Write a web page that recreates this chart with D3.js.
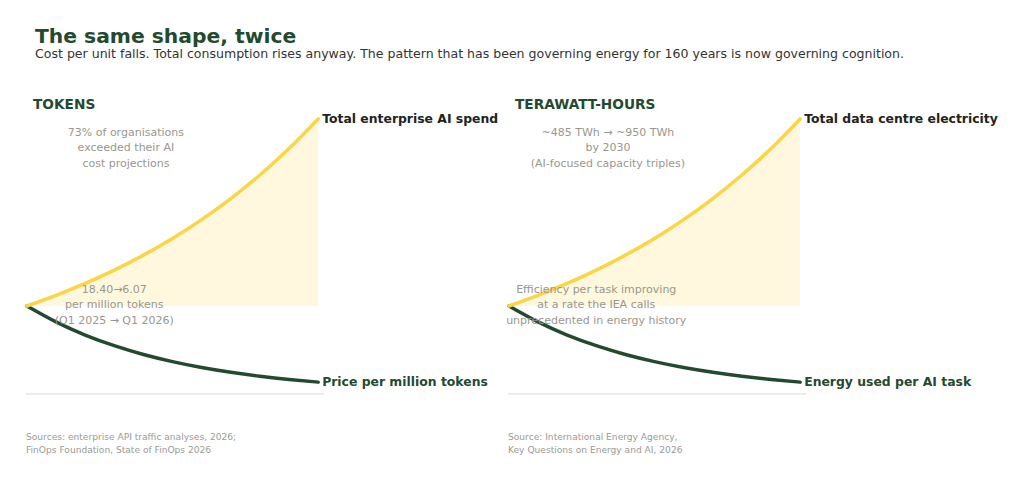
<!DOCTYPE html>
<html>
<head>
  <title>The same shape, twice</title>
  <script src="https://d3js.org/d3.v7.min.js"></script>
  <style>
    body {
      margin: 0;
      background-color: white;
      font-family: "DejaVu Sans", sans-serif;
    }

    .note {
      fill: #9a978c;
      font-size: 11px;
    }

    .source {
      fill: #9a9a94;
      font-size: 9.1px;
    }
  </style>
</head>
<body>
  <svg id="chart" width="1024" height="481"></svg>

  <script>
    // ----------- DATA -----------------------------------------------------
    const steps = [0, 0.1, 0.2, 0.3, 0.4, 0.5, 0.6, 0.7, 0.8, 0.9, 1.0];
    // both panels share the same two shapes
    const totalRise = [1.000, 1.121, 1.256, 1.408, 1.578, 1.768, 1.982, 2.221, 2.489, 2.789, 3.126];
    const unitFall = [1.000, 0.819, 0.670, 0.549, 0.449, 0.368, 0.301, 0.247, 0.202, 0.165, 0.135];

    const panelTitles = ["TOKENS", "TERAWATT-HOURS"];
    const riseLabels = ["Total enterprise AI spend", "Total data centre electricity"];
    const fallLabels = ["Price per million tokens", "Energy used per AI task"];
    const riseNotes = [
      ["73% of organisations", "exceeded their AI", "cost projections"],
      ["~485 TWh \u2192 ~950 TWh", "by 2030", "(AI-focused capacity triples)"]
    ];
    const fallNotes = [
      ["18.40\u21926.07", "per million tokens", "(Q1 2025 \u2192 Q1 2026)"],
      ["Efficiency per task improving", "at a rate the IEA calls", "unprecedented in energy history"]
    ];
    const sources = [
      ["Sources: enterprise API traffic analyses, 2026;", "FinOps Foundation, State of FinOps 2026"],
      ["Source: International Energy Agency,", "Key Questions on Energy and AI, 2026"]
    ];

    const green = "#234a30";
    const yellow = "#fbd545";
    const fillYellow = "#fff7de";

    const svg = d3.select("#chart");

    // ----------- HEADER ---------------------------------------------------
    svg.append("text")
      .attr("x", 35)
      .attr("y", 43)
      .attr("fill", green)
      .attr("font-size", "20.3px")
      .attr("font-weight", "bold")
      .text("The same shape, twice");

    svg.append("text")
      .attr("x", 35)
      .attr("y", 58)
      .attr("fill", "#333")
      .attr("font-size", "12.55px")
      .text("Cost per unit falls. Total consumption rises anyway. The pattern that has been governing energy for 160 years is now governing cognition.");

    // ----------- PANELS ---------------------------------------------------
    const panelLefts = [26, 508];
    const panelWidth = 298;

    panelLefts.forEach((left, i) => {
      const x = d3.scaleLinear()
        .domain([-0.003, 1.02])
        .range([left, left + panelWidth]);

      const y = d3.scaleLinear()
        .domain([0, 3.3])
        .range([394, 394 - 3.3 * 88]);

      const g = svg.append("g");

      // yellow area between the starting level and the rising curve
      const area = d3.area()
        .x((d, j) => x(steps[j]))
        .y0(y(totalRise[0]))
        .y1(d => y(d))
        .curve(d3.curveNatural);

      g.append("path")
        .datum(totalRise)
        .attr("d", area)
        .attr("fill", fillYellow);

      // bottom spine
      g.append("line")
        .attr("x1", x.range()[0])
        .attr("x2", x.range()[1])
        .attr("y1", y(0))
        .attr("y2", y(0))
        .attr("stroke", "#d9d9d4")
        .attr("stroke-width", 1);

      const line = d3.line()
        .x((d, j) => x(steps[j]))
        .y(d => y(d))
        .curve(d3.curveNatural);

      g.append("path")
        .datum(unitFall)
        .attr("d", line)
        .attr("fill", "none")
        .attr("stroke", green)
        .attr("stroke-width", 3.5)
        .attr("stroke-linecap", "round");

      g.append("path")
        .datum(totalRise)
        .attr("d", line)
        .attr("fill", "none")
        .attr("stroke", yellow)
        .attr("stroke-width", 3.5)
        .attr("stroke-linecap", "round");

      // panel heading
      g.append("text")
        .attr("x", left + 7)
        .attr("y", 104)
        .attr("dy", ".35em")
        .attr("fill", green)
        .attr("font-size", "13.7px")
        .attr("font-weight", "bold")
        .text(panelTitles[i]);

      // end labels
      const last = steps.length - 1;
      g.append("text")
        .attr("x", x(steps[last]) + 4)
        .attr("y", y(totalRise[last]))
        .attr("dy", ".35em")
        .attr("fill", "#222")
        .attr("font-size", "12.4px")
        .attr("font-weight", "bold")
        .text(riseLabels[i]);

      g.append("text")
        .attr("x", x(steps[last]) + 4)
        .attr("y", y(unitFall[last]))
        .attr("dy", ".35em")
        .attr("fill", green)
        .attr("font-size", "12.4px")
        .attr("font-weight", "bold")
        .text(fallLabels[i]);

      // annotations
      riseNotes[i].forEach((t, k) => {
        g.append("text")
          .attr("class", "note")
          .attr("x", x(0.34))
          .attr("y", 132 + k * 15.5)
          .attr("dy", ".35em")
          .attr("text-anchor", "middle")
          .text(t);
      });

      fallNotes[i].forEach((t, k) => {
        g.append("text")
          .attr("class", "note")
          .attr("x", x(0.30))
          .attr("y", 289 + k * 15.5)
          .attr("dy", ".35em")
          .attr("text-anchor", "middle")
          .text(t);
      });

      sources[i].forEach((t, k) => {
        g.append("text")
          .attr("class", "source")
          .attr("x", left)
          .attr("y", 437 + k * 13)
          .attr("dy", ".35em")
          .text(t);
      });
    });
  </script>
</body>
</html>
